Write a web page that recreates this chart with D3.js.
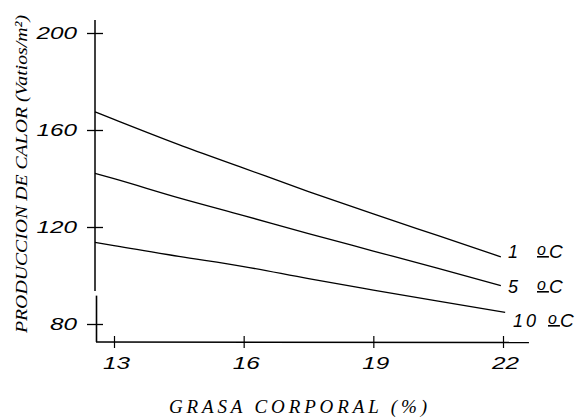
<!DOCTYPE html>
<html>
<head>
<meta charset="utf-8">
<script src="https://cdn.jsdelivr.net/npm/d3@7"></script>
<style>
  body { margin: 0; background: #fff; }
  svg { display: block; }
</style>
</head>
<body>
<svg id="chart" width="581" height="419"></svg>
<script>
// grasa corporal (%) vs produccion de calor, three ambient temperatures
var grasa = [12.56, 13, 14.5, 16, 17.5, 19, 20.5, 22];
var calor1 = [167.5, 164.4, 154.0, 144.3, 134.6, 125.4, 116.4, 107.7];
var calor5 = [142.1, 139.9, 132.0, 124.7, 117.3, 110.1, 102.9, 95.8];
var calor10 = [113.7, 112.3, 107.9, 103.7, 98.7, 94.0, 89.4, 84.8];
var temps = ["1", "5", "10"];
var series = [
  {temp: temps[0], vals: calor1, end: 21.95},
  {temp: temps[1], vals: calor5, end: 21.95},
  {temp: temps[2], vals: calor10, end: 22.05}
];
var xTicks = [13, 16, 19, 22];
var yTicks = [80, 120, 160, 200];

const svg = d3.select("#chart");

var x = d3.scaleLinear().domain([13, 22]).range([114, 503]);
var y = d3.scaleLinear().domain([80, 200]).range([324, 33]);

const tickFont = "'Liberation Sans', Arial, sans-serif";
const titleFont = "'Liberation Serif', 'Times New Roman', serif";

// wide, thin plotter-style digits
function styleTickText(sel, size) {
  sel.style("font-family", tickFont)
    .style("font-style", "italic")
    .style("font-size", size + "px")
    .attr("textLength", function() { return this.textContent.length * 13.5; })
    .attr("lengthAdjust", "spacingAndGlyphs")
    .attr("fill", "#000");
}

// y axis (broken near the bottom)
var gy = svg.append("g")
  .attr("transform", "translate(95,0)")
  .call(d3.axisLeft(y).tickValues(yTicks).tickSize(8).tickPadding(10));
gy.select(".domain").remove();
gy.selectAll(".tick line").attr("x1", 8).attr("x2", -8).attr("stroke-width", 1.3);
gy.selectAll(".tick text").call(styleTickText, 16).attr("dy", "0.36em");

svg.append("line")
  .attr("x1", 95).attr("x2", 95)
  .attr("y1", y(205.4)).attr("y2", y(93.6))
  .attr("stroke", "#000").attr("stroke-width", 1.5);
svg.append("line")
  .attr("x1", 96.5).attr("x2", 96.5)
  .attr("y1", y(91.7)).attr("y2", y(72.6))
  .attr("stroke", "#000").attr("stroke-width", 1.6);

// x axis
var gx = svg.append("g")
  .attr("transform", "translate(0,342)")
  .call(d3.axisBottom(x).tickValues(xTicks).tickSize(6).tickPadding(9));
gx.select(".domain").remove();
gx.selectAll(".tick line").attr("y1", -6).attr("y2", 6).attr("stroke-width", 1.2);
gx.selectAll(".tick text").call(styleTickText, 17).attr("dx", "2");

svg.append("line")
  .attr("x1", 96).attr("x2", x(22.6))
  .attr("y1", 342).attr("y2", 342.5)
  .attr("stroke", "#000").attr("stroke-width", 1.5);

// curves
var line = d3.line()
  .x(function(d) { return x(d[0]); })
  .y(function(d) { return y(d[1]); })
  .curve(d3.curveMonotoneX);

series.forEach(function(s) {
  var pts = grasa.map(function(g, i) { return [i === grasa.length - 1 ? s.end : g, s.vals[i]]; });
  svg.append("path")
    .attr("d", line(pts))
    .attr("fill", "none")
    .attr("stroke", "#000")
    .attr("stroke-width", 1.3);
});

// labels at the ends of the lines: number, underlined o, C
var labelPos = [[508, 258, 537], [508, 293, 537], [513, 327, 548]];
series.forEach(function(s, i) {
  var t = svg.append("text")
    .attr("x", labelPos[i][0]).attr("y", labelPos[i][1])
    .style("font-family", tickFont)
    .style("font-style", "italic")
    .style("font-size", "18px")
    .style("letter-spacing", "3px");
  t.append("tspan").text(s.temp);
  t.append("tspan")
    .attr("x", labelPos[i][2]).attr("dy", -3)
    .style("font-size", "16px")
    .style("text-decoration", "underline")
    .text("o");
  t.append("tspan").attr("dy", 3).style("font-size", "19px").text("C");
});

// axis titles
svg.append("text")
  .attr("transform", "translate(27,174) rotate(-90)")
  .attr("text-anchor", "middle")
  .style("font-family", titleFont)
  .style("font-style", "italic")
  .style("font-size", "17px")
  .attr("textLength", 318)
  .attr("lengthAdjust", "spacingAndGlyphs")
  .text("PRODUCCION DE CALOR (Vatios/m²)");

svg.append("text")
  .attr("x", 298).attr("y", 413)
  .attr("text-anchor", "middle")
  .style("font-family", titleFont)
  .style("font-style", "italic")
  .style("font-size", "19px")
  .attr("textLength", 258)
  .attr("lengthAdjust", "spacing")
  .text("GRASA CORPORAL (%)");
</script>
</body>
</html>
